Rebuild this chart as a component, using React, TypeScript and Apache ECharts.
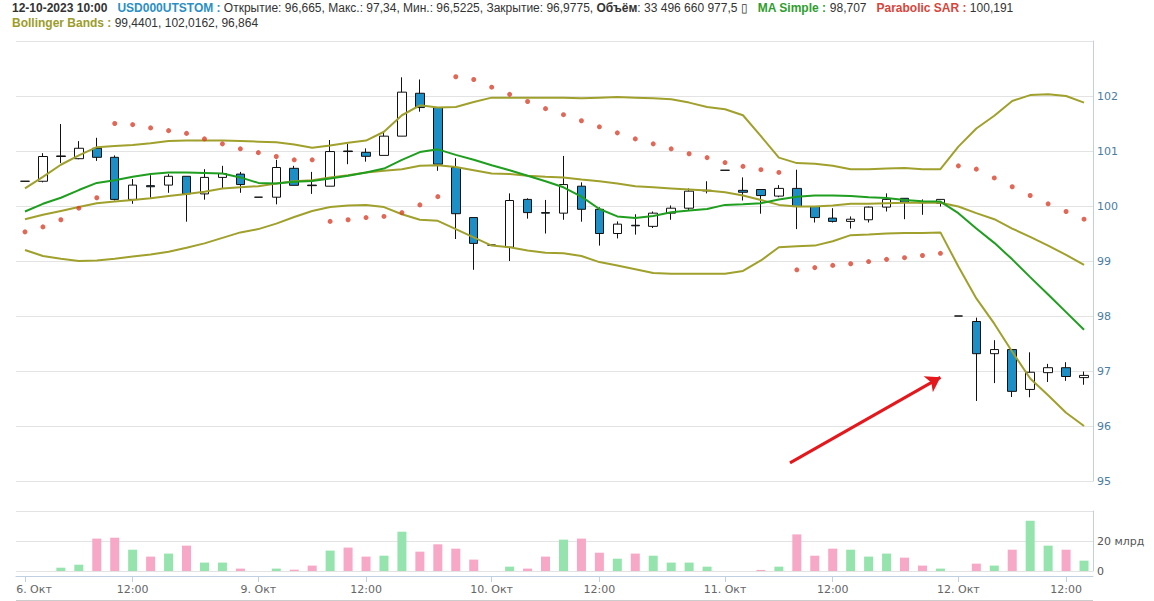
import React, { useEffect, useRef } from "react";
import * as echarts from "echarts";

// ---------- data ----------
const DAYS = ["2023-10-06", "2023-10-09", "2023-10-10", "2023-10-11", "2023-10-12"];
const DAY_LABELS = ["6. Окт", "9. Окт", "10. Окт", "11. Окт", "12. Окт"];
const CANDLES_PER_DAY = [13, 13, 13, 13, 8];
const FIRST_HOUR = 6;

const OPEN = [
  100.45, 100.45, 100.9, 100.86, 101.05, 100.885, 100.12, 100.37, 100.38, 100.54,
  100.22, 100.52, 100.58, 100.16, 100.16, 100.685, 100.38, 100.36, 101.0, 100.976,
  100.92, 101.27, 102.05, 101.79, 100.7, 99.79, 99.29, 99.25, 100.12, 99.88,
  99.87, 100.36, 99.94, 99.5, 99.65, 99.63, 99.87, 99.96, 100.275, 100.65,
  100.285, 100.3, 100.18, 100.32, 99.99, 99.78, 99.72, 99.75, 99.98, 100.14,
  100.07, 100.05, 98.0, 97.9, 97.315, 97.39, 96.665, 96.97, 97.06, 96.88,
];
const CLOSE = [
  100.45, 100.9, 100.91, 101.05, 100.885, 100.12, 100.38, 100.35, 100.54, 100.22,
  100.52, 100.59, 100.39, 100.16, 100.7, 100.376, 100.37, 100.99, 100.99, 100.903,
  101.27, 102.07, 101.79, 100.76, 99.86, 99.32, 99.29, 100.1, 99.88, 99.87,
  100.39, 99.94, 99.5, 99.67, 99.64, 99.87, 99.96, 100.27, 100.285, 100.65,
  100.25, 100.19, 100.32, 99.99, 99.79, 99.72, 99.76, 99.98, 100.12, 100.07,
  100.06, 100.12, 98.0, 97.315, 97.39, 96.63, 96.9775, 97.06, 96.9, 96.92,
];
const LOW = [
  100.45, 100.43, 100.78, 100.85, 100.82, 100.1, 100.04, 100.15, 100.24, 99.715,
  100.115, 100.32, 100.24, 100.16, 100.03, 100.376, 100.22, 100.36, 100.76, 100.806,
  100.92, 101.27, 101.715, 100.64, 99.4, 98.84, 99.29, 99.0, 99.77, 99.5,
  99.75, 99.715, 99.28, 99.41, 99.48, 99.6, 99.75, 99.92, 100.23, 100.65,
  100.1, 99.86, 100.16, 99.58, 99.7, 99.7, 99.59, 99.7, 99.9, 99.76,
  99.84, 99.99, 98.0, 96.455, 96.78, 96.527, 96.5225, 96.8, 96.82, 96.75,
];
const HIGH = [
  100.45, 100.96, 101.49, 101.18, 101.24, 100.92, 100.49, 100.56, 100.58, 100.54,
  100.67, 100.73, 100.62, 100.16, 100.84, 100.73, 100.62, 101.2, 101.13, 101.048,
  101.36, 102.34, 102.3, 101.79, 100.87, 99.79, 99.29, 100.23, 100.14, 100.11,
  100.91, 100.43, 99.976, 99.72, 99.85, 99.9, 100.01, 100.32, 100.45, 100.65,
  100.52, 100.3, 100.38, 100.66, 99.99, 99.96, 99.81, 99.99, 100.23, 100.14,
  100.12, 100.12, 98.0, 97.97, 97.56, 97.39, 97.34, 97.13, 97.16, 96.99,
];
// volume, billions
const VOLUME = [
  0, 0, 2.2, 4.2, 21.6, 22.2, 14.2, 9.6, 11.6, 16.9,
  5.6, 5.6, 1.6, 0, 1.6, 0.9, 3.6, 13.6, 15.6, 9.6,
  10.2, 26.2, 12.9, 17.8, 14.9, 7.6, 0, 2.9, 1.6, 9.6,
  20.9, 21.6, 12.2, 8.2, 11.6, 10.2, 5.6, 5.6, 2.9, 0,
  0, 0.7, 2.9, 24.4, 10.2, 14.9, 14.2, 9.6, 11.6, 8.9,
  3.6, 1.6, 0, 4.9, 3.6, 14.2, 33.5, 16.9, 14.2, 6.9,
];
const MA_SIMPLE = [
  99.9, 100.04, 100.15, 100.29, 100.42, 100.47, 100.53, 100.58, 100.61, 100.61,
  100.6, 100.59, 100.52, 100.42, 100.41, 100.44, 100.455, 100.5, 100.55, 100.61,
  100.68, 100.84, 100.98, 101.03, 100.93, 100.84, 100.74, 100.65, 100.55, 100.45,
  100.34, 100.17, 99.945, 99.81, 99.78, 99.82, 99.885, 99.92, 99.945, 100.02,
  100.03, 100.05, 100.12, 100.17, 100.19, 100.19, 100.18, 100.16, 100.145, 100.11,
  100.085, 100.08, 99.87, 99.59, 99.33, 99.03, 98.707, 98.39, 98.07, 97.75,
];
const BB_MID = [
  99.76, 99.84, 99.91, 99.98, 100.05, 100.08, 100.11, 100.14, 100.18, 100.22,
  100.26, 100.32, 100.34, 100.36, 100.41, 100.45, 100.47, 100.52, 100.56, 100.61,
  100.64, 100.67, 100.73, 100.74, 100.71, 100.65, 100.59, 100.58, 100.55, 100.53,
  100.52, 100.48, 100.45, 100.41, 100.36, 100.34, 100.32, 100.3, 100.28, 100.25,
  100.19, 100.11, 100.02, 99.99, 99.99, 100.01, 100.04, 100.04, 100.05, 100.06,
  100.06, 100.06, 99.99, 99.87, 99.76, 99.59, 99.4401, 99.28, 99.11, 98.93,
];
const BB_UP = [
  100.32, 100.53, 100.75, 100.92, 101.07, 101.09, 101.11, 101.14, 101.18, 101.19,
  101.19, 101.19, 101.18, 101.17, 101.16, 101.12, 101.06, 101.1, 101.15, 101.19,
  101.35, 101.65, 101.83, 101.79, 101.8, 101.89, 101.97, 101.97, 101.97, 101.97,
  101.97, 101.96, 101.97, 101.98, 101.97, 101.96, 101.94, 101.88, 101.8, 101.76,
  101.65, 101.27, 100.88, 100.78, 100.77, 100.73, 100.67, 100.67, 100.68, 100.69,
  100.67, 100.67, 101.08, 101.41, 101.64, 101.91, 102.0162, 102.03, 102.0, 101.88,
];
const BB_LOW = [
  99.2, 99.09, 99.04, 99.0, 99.01, 99.04, 99.08, 99.12, 99.17, 99.24,
  99.32, 99.42, 99.52, 99.58, 99.68, 99.8, 99.91, 99.98, 100.01, 100.02,
  99.98, 99.85, 99.75, 99.73, 99.58, 99.43, 99.28, 99.25, 99.19, 99.15,
  99.14, 99.09, 98.98, 98.92, 98.85, 98.78, 98.77, 98.77, 98.77, 98.77,
  98.82, 99.01, 99.25, 99.27, 99.28, 99.36, 99.47, 99.48, 99.5, 99.51,
  99.51, 99.52, 98.9, 98.32, 97.86, 97.35, 96.864, 96.56, 96.24, 96.0,
];
const SAR = [
  99.53, 99.62, 99.75, 99.96, 100.15, 101.5, 101.48, 101.42, 101.37, 101.32,
  101.22, 101.13, 101.04, 100.97, 100.9, 100.84, 100.84, 99.72, 99.75, 99.79,
  99.81, 99.88, 100.02, 100.17, 102.35, 102.3, 102.16, 102.03, 101.9, 101.77,
  101.66, 101.55, 101.44, 101.33, 101.22, 101.13, 101.04, 100.95, 100.88, 100.79,
  100.72, 100.66, 100.61, 98.84, 98.88, 98.92, 98.95, 98.99, 99.03, 99.06,
  99.1, 99.14, 100.73, 100.67, 100.51, 100.35, 100.191, 100.04, 99.9, 99.76,
];
// annotation arrow: [candle index, price]
const ARROW = [
  [42.62, 95.33],
  [51.0, 96.885],
];

const HEADER_1 =
  "{d|12-10-2023 10:00}   {t|USD000UTSTOM :} Открытие: 96,665, Макс.: 97,34, Мин.: 96,5225, Закрытие: 96,9775, {b|Объём}: 33 496 660 977,5 ▯   {ma|MA Simple :} 98,707   {sar|Parabolic SAR :} 100,191";
const HEADER_2 = "{bb|Bollinger Bands :} 99,4401, 102,0162, 96,864";

// ---------- derived ----------
const CATEGORIES: string[] = [];
DAYS.forEach((d, di) => {
  for (let k = 0; k < CANDLES_PER_DAY[di]; k++) {
    const h = FIRST_HOUR + k;
    CATEGORIES.push(d + " " + (h < 10 ? "0" : "") + h + ":00");
  }
});

const isTick = (_i: number, v: string) => v.endsWith(" 06:00") || v.endsWith(" 12:00");
const tickLabel = (v: string, i: number) => {
  if (v.endsWith(" 12:00")) return "12:00";
  if (v.endsWith(" 06:00")) {
    const t = DAY_LABELS[DAYS.indexOf(v.slice(0, 10))];
    return i === 0 ? "{first|" + t + "}" : t;
  }
  return "";
};

const UP_VOL = "#95e3ad";
const DOWN_VOL = "#f6a8c6";
const FONT = "DejaVu Sans";
const HFONT = "Liberation Sans";

export default function App() {
  const ref = useRef<HTMLDivElement>(null);
  useEffect(() => {
    if (!ref.current) return;
    const chart = echarts.init(ref.current, undefined, { renderer: "svg" });
    const candleData = OPEN.map((o, i) => [o, CLOSE[i], LOW[i], HIGH[i]]);
    const volData = VOLUME.map((v, i) => ({
      value: v,
      itemStyle: { color: CLOSE[i] >= OPEN[i] ? UP_VOL : DOWN_VOL },
    }));
    const hs = (extra: any) => ({ fontSize: 12, fontFamily: HFONT, ...extra });
    const option: any = {
      animation: false,
      backgroundColor: "#ffffff",
      textStyle: { fontFamily: FONT },
      title: [
        {
          left: 12,
          top: 2,
          padding: 0,
          text: HEADER_1,
          textStyle: {
            fontSize: 12,
            fontFamily: HFONT,
            fontWeight: "normal",
            color: "#333333",
            rich: {
              d: hs({ fontWeight: "bold", color: "#333333" }),
              t: hs({ fontWeight: "bold", color: "#2b8fc5" }),
              b: hs({ fontWeight: "bold", color: "#333333" }),
              ma: hs({ fontWeight: "bold", color: "#2e9e2e" }),
              sar: hs({ fontWeight: "bold", color: "#d8453a" }),
            },
          },
        },
        {
          left: 12,
          top: 17,
          padding: 0,
          text: HEADER_2,
          textStyle: {
            fontSize: 12,
            fontFamily: HFONT,
            fontWeight: "normal",
            color: "#333333",
            rich: { bb: hs({ fontWeight: "bold", color: "#9c9c2a" }) },
          },
        },
      ],
      grid: [
        { left: 16, top: 41, width: 1077, height: 440 },
        { left: 16, top: 511, width: 1077, height: 60 },
      ],
      xAxis: [
        { type: "category", gridIndex: 0, data: CATEGORIES, boundaryGap: true, show: false },
        {
          type: "category",
          gridIndex: 1,
          data: CATEGORIES,
          boundaryGap: true,
          offset: 5,
          axisLine: { show: true, onZero: false, lineStyle: { color: "#C0D0E0" } },
          axisTick: {
            show: true,
            alignWithLabel: true,
            interval: isTick,
            length: 6,
            lineStyle: { color: "#C0D0E0" },
          },
          axisLabel: {
            interval: isTick,
            formatter: (v: string, i: number) => tickLabel(v, i),
            color: "#666666",
            fontSize: 11,
            fontFamily: FONT,
            margin: 8,
            rich: {
              first: { color: "#666666", fontSize: 11, fontFamily: FONT, padding: [0, 0, 0, 18] },
            },
          },
          splitLine: { show: false },
        },
        { type: "value", gridIndex: 0, min: -0.5, max: 59.5, show: false },
      ],
      yAxis: [
        {
          type: "value",
          gridIndex: 0,
          position: "right",
          min: 95,
          max: 103,
          interval: 1,
          axisLine: { show: true, onZero: false, lineStyle: { color: "#C0D0E0" } },
          axisTick: { show: false },
          axisLabel: { color: "#4a7d9f", fontSize: 11, fontFamily: FONT, margin: 4, showMaxLabel: false },
          splitLine: { show: true, lineStyle: { color: "#e3e3e3" } },
        },
        {
          type: "value",
          gridIndex: 1,
          position: "right",
          min: 0,
          max: 40,
          interval: 20,
          axisLine: { show: true, onZero: false, lineStyle: { color: "#C0D0E0" } },
          axisTick: { show: false },
          axisLabel: {
            color: "#555555",
            fontSize: 11,
            fontFamily: FONT,
            margin: 4,
            showMaxLabel: false,
            formatter: (v: number) => (v === 0 ? "0" : v + " млрд"),
          },
          splitLine: { show: true, lineStyle: { color: "#e3e3e3" } },
        },
      ],
      graphic: [
        {
          type: "line",
          shape: { x1: 16, y1: 600.5, x2: 1093, y2: 600.5 },
          style: { stroke: "#cccccc", lineWidth: 1 },
        },
      ],
      series: [
        {
          name: "USD000UTSTOM",
          type: "candlestick",
          xAxisIndex: 0,
          yAxisIndex: 0,
          data: candleData,
          barWidth: 9,
          itemStyle: {
            color: "#ffffff",
            color0: "#1b8fc6",
            borderColor: "#111111",
            borderColor0: "#111111",
            borderWidth: 1,
          },
          z: 2,
        },
        {
          name: "BB upper",
          type: "line",
          xAxisIndex: 0,
          yAxisIndex: 0,
          data: BB_UP,
          symbol: "none",
          lineStyle: { color: "#a0a02c", width: 2 },
          z: 3,
        },
        {
          name: "BB middle",
          type: "line",
          xAxisIndex: 0,
          yAxisIndex: 0,
          data: BB_MID,
          symbol: "none",
          lineStyle: { color: "#a0a02c", width: 2 },
          z: 3,
        },
        {
          name: "BB lower",
          type: "line",
          xAxisIndex: 0,
          yAxisIndex: 0,
          data: BB_LOW,
          symbol: "none",
          lineStyle: { color: "#a0a02c", width: 2 },
          z: 3,
        },
        {
          name: "MA Simple",
          type: "line",
          xAxisIndex: 0,
          yAxisIndex: 0,
          data: MA_SIMPLE,
          symbol: "none",
          lineStyle: { color: "#1f9e1f", width: 2 },
          z: 4,
        },
        {
          name: "Parabolic SAR",
          type: "scatter",
          xAxisIndex: 0,
          yAxisIndex: 0,
          data: SAR,
          symbolSize: 5,
          itemStyle: { color: "#d9412c" },
          z: 5,
        },
        {
          name: "Volume",
          type: "bar",
          xAxisIndex: 1,
          yAxisIndex: 1,
          data: volData,
          barWidth: 9,
        },
        {
          name: "arrow",
          type: "lines",
          coordinateSystem: "cartesian2d",
          xAxisIndex: 2,
          yAxisIndex: 0,
          symbol: ["none", "arrow"],
          symbolSize: 14,
          lineStyle: { color: "#e3171c", width: 3, opacity: 1 },
          data: [{ coords: ARROW }],
          z: 6,
        },
      ],
    };
    chart.setOption(option);
    return () => chart.dispose();
  }, []);
  return (
    <div
      ref={ref}
      style={{ position: "absolute", left: 0, top: 0, width: 1154, height: 601, background: "#fff" }}
    />
  );
}
